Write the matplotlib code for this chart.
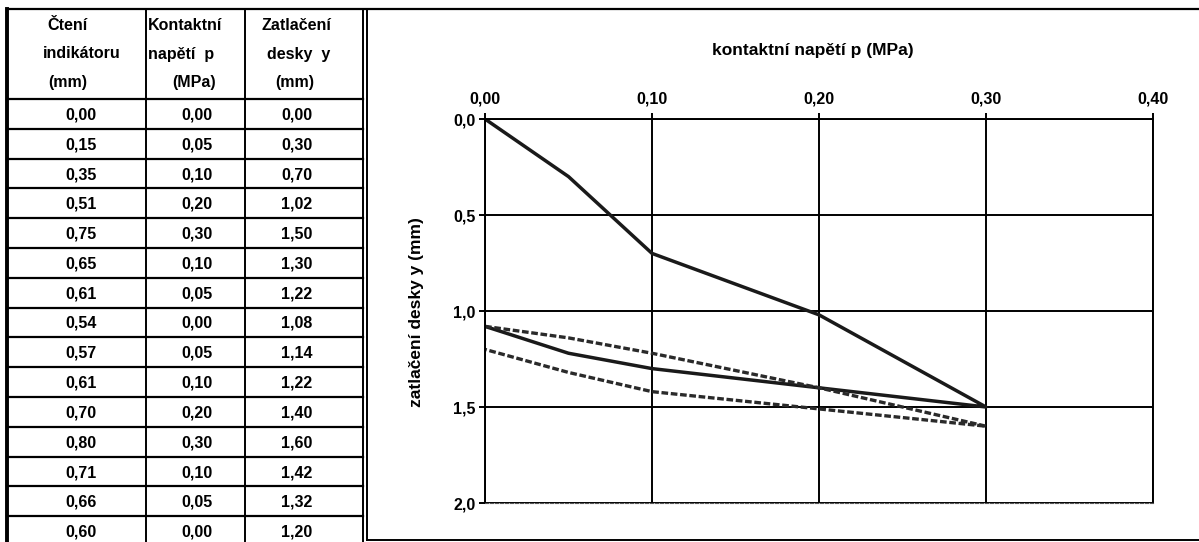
import matplotlib.pyplot as plt

plt.rcParams['font.family'] = ['Liberation Sans', 'DejaVu Sans']

# Data from the table
cteni = [0.00, 0.15, 0.35, 0.51, 0.75, 0.65, 0.61, 0.54, 0.57, 0.61, 0.70, 0.80, 0.71, 0.66, 0.60]
napeti = [0.00, 0.05, 0.10, 0.20, 0.30, 0.10, 0.05, 0.00, 0.05, 0.10, 0.20, 0.30, 0.10, 0.05, 0.00]
zatlaceni = [0.00, 0.30, 0.70, 1.02, 1.50, 1.30, 1.22, 1.08, 1.14, 1.22, 1.40, 1.60, 1.42, 1.32, 1.20]

hlavicky = [["Čtení", "indikátoru", "(mm)"],
            ["Kontaktní", "napětí  p", "(MPa)"],
            ["Zatlačení", "desky  y", "(mm)"]]

x_ticks = [0.0, 0.1, 0.2, 0.3, 0.4]
y_ticks = [0.0, 0.5, 1.0, 1.5, 2.0]


def cz(v, n=2):
    return f"{v:.{n}f}".replace('.', ',')


W, H = 1199, 542
fig = plt.figure(figsize=(W / 100, H / 100), dpi=100)

# overlay in pixel coordinates for the table and frames
bg = fig.add_axes([0, 0, 1, 1])
bg.set_xlim(0, W)
bg.set_ylim(H, 0)
bg.axis('off')

# table grid
col_x = [7, 146, 245, 363]
txt_x = [81, 197, 297]
row_top = 99
row_h = 29.8
bg.plot([7, W], [9, 9], color='black', lw=1.6)
bg.plot([7, 7], [9, H], color='black', lw=2.8)
for cx in col_x[1:]:
    bg.plot([cx, cx], [9, H], color='black', lw=1.4)
for i in range(len(cteni)):
    yy = row_top + i * row_h
    bg.plot([7, col_x[-1]], [yy, yy], color='black', lw=1.6)

# header text
head_y = [25, 54, 83]
head_pos = [[(68, 'center'), (82, 'center'), (68, 'center')],
            [(148, 'left'), (148, 'left'), (194, 'center')],
            [(296, 'center'), (299, 'center'), (295, 'center')]]
for c, lines in enumerate(hlavicky):
    for j, t in enumerate(lines):
        hx, ha = head_pos[c][j]
        bg.text(hx, head_y[j], t, ha=ha, va='center', fontsize=11.5, fontweight='bold')

# table values
for i in range(len(cteni)):
    yc = row_top + i * row_h + row_h / 2 + 1
    for c, arr in enumerate([cteni, napeti, zatlaceni]):
        bg.text(txt_x[c], yc, cz(arr[i]), ha='center', va='center',
                fontsize=11.5, fontweight='bold')

# chart frame
bg.plot([367, 367], [9, 540], color='black', lw=1.4)
bg.plot([367, W], [540, 540], color='black', lw=1.4)

# chart
ax = fig.add_axes([485 / W, 39 / H, (1153 - 485) / W, (503 - 119) / H])
ax.plot(napeti[:8], zatlaceni[:8], color='#1a1a1a', lw=2.5, solid_joinstyle='round')
ax.plot(napeti[7:], zatlaceni[7:], color='#2a2a2a', lw=2.4, linestyle=(0, (2.0, 0.8)))

ax.set_xlim(0, 0.4)
ax.set_ylim(2.0, 0.0)
ax.set_xticks(x_ticks)
ax.set_yticks(y_ticks)
ax.set_xticklabels([cz(v) for v in x_ticks], fontsize=11.5, fontweight='bold')
ax.set_yticklabels([cz(v, 1) for v in y_ticks], fontsize=11.5, fontweight='bold')
ax.xaxis.tick_top()
ax.tick_params(axis='both', length=4, width=1.4, direction='out', pad=3)
ax.tick_params(axis='x', pad=5)
ax.grid(True, color='black', lw=1.4)
for s in ['top', 'left', 'right']:
    ax.spines[s].set_linewidth(1.4)
ax.spines['bottom'].set_linestyle((0, (3, 1.5)))
ax.spines['bottom'].set_color('#555555')
ax.set_axisbelow(True)

fig.text(813 / W, 1 - 50 / H, "kontaktní napětí p (MPa)", ha='center', va='center',
         fontsize=12.5, fontweight='bold')
fig.text(416 / W, 1 - 312 / H, "zatlačení desky y (mm)", ha='center', va='center',
         rotation=90, fontsize=12.5, fontweight='bold')

fig.savefig('out.png', dpi=100, facecolor='white')
